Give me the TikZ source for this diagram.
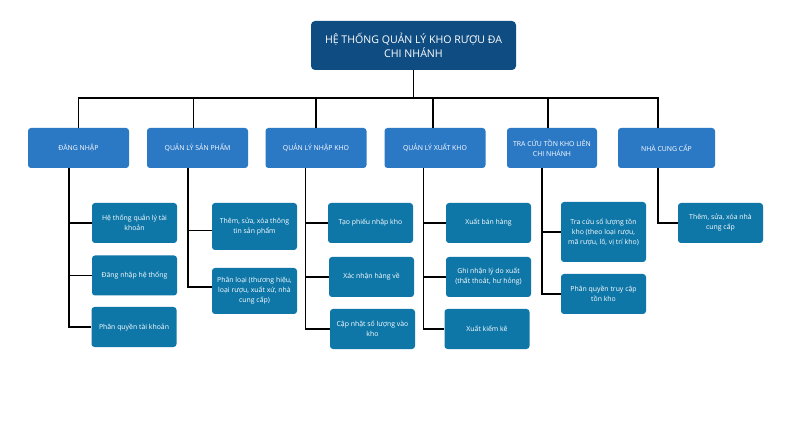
\documentclass[tikz,border=0pt]{standalone}
\usepackage{fontspec}
\setmainfont{Open Sans}
\definecolor{topblue}{HTML}{0F4C81}
\definecolor{headblue}{HTML}{2B78C5}
\definecolor{subblue}{HTML}{0E77A8}

\begin{document}
\begin{tikzpicture}[x=1pt, y=-1pt,
    topbox/.style={fill=topblue, rounded corners=4pt, text=white, align=center,
      minimum width=205pt, minimum height=49pt, font=\fontsize{10.6}{13.5}\selectfont},
    headbox/.style={fill=headblue, rounded corners=3pt, text=white, align=center,
      minimum width=101pt, minimum height=40pt, font=\fontsize{6.9}{10}\selectfont},
    subbox/.style={fill=subblue, rounded corners=3pt, text=white, align=center,
      minimum width=85pt, minimum height=40pt, font=\fontsize{6.9}{10}\selectfont},
    link/.style={black, line width=1.4pt}]
  \path[fill=white, use as bounding box] (0,0) rectangle (787,430);

  % top
  \node[topbox] (top) at (413.5,45.5) {HỆ THỐNG QUẢN LÝ KHO RƯỢU ĐA\\CHI NHÁNH};

  % main modules
  \node[headbox] (dn) at (78.5,148) {ĐĂNG NHẬP};
  \node[headbox] (sp) at (197.5,148) {QUẢN LÝ SẢN PHẨM};
  \node[headbox] (nk) at (316,148) {QUẢN LÝ NHẬP KHO};
  \node[headbox] (xk) at (435,148) {QUẢN LÝ XUẤT KHO};
  \node[headbox, minimum width=90pt] (tc) at (552,148) {TRA CỨU TỒN KHO LIÊN\\CHI NHÁNH};
  \node[headbox, minimum width=97pt] (ncc) at (666.5,148) {NHÀ CUNG CẤP};

  % sub functions
  \node[subbox] (dn1) at (134.5,223) {Hệ thống quản lý tài\\khoản};
  \node[subbox] (dn2) at (134.5,275.5) {Đăng nhập hệ thống};
  \node[subbox] (dn3) at (134,327) {Phân quyền tài khoản};

  \node[subbox, minimum height=47pt] (sp1) at (254.5,226.5) {Thêm, sửa, xóa thông\\tin sản phẩm};
  \node[subbox, minimum height=46pt] (sp2) at (254.5,291) {Phân loại (thương hiệu,\\loại rượu, xuất xứ, nhà\\cung cấp)};

  \node[subbox] (nk1) at (370.5,223) {Tạo phiếu nhập kho};
  \node[subbox] (nk2) at (371.5,277) {Xác nhận hàng về};
  \node[subbox] (nk3) at (372.5,329) {Cập nhật số lượng vào\\kho};

  \node[subbox] (xk1) at (488.5,223) {Xuất bán hàng};
  \node[subbox] (xk2) at (488.5,277) {Ghi nhận lý do xuất\\(thất thoát, hư hỏng)};
  \node[subbox] (xk3) at (487,329) {Xuất kiểm kê};

  \node[subbox, minimum height=60pt] (tc1) at (603.5,232) {Tra cứu số lượng tồn\\kho (theo loại rượu,\\mã rượu, lô, vị trí kho)};
  \node[subbox] (tc2) at (603.5,294) {Phân quyền truy cập\\tồn kho};

  \node[subbox] (ncc1) at (720.5,223) {Thêm, sửa, xóa nhà\\cung cấp};

  % top bus
  \coordinate (bus) at (413.5,98);
  \draw[link] (top.south) -- (bus);
  \draw[link] (dn.north) |- (bus);
  \draw[link] ([xshift=-4pt]sp.north) |- (bus);
  \draw[link] (nk.north) |- (bus);
  \draw[link] ([xshift=-2pt]xk.north) |- (bus);
  \draw[link] ([xshift=-4pt]tc.north) |- (bus);
  \draw[link] ([xshift=-8.5pt]ncc.north) |- (bus);

  % branches
  \draw[link] ([xshift=-9.5pt]dn.south) |- (dn1.west);
  \draw[link] ([xshift=-9.5pt]dn.south) |- (dn2.west);
  \draw[link] ([xshift=-9.5pt]dn.south) |- (dn3.west);
  \draw[link] ([xshift=-9.5pt]sp.south) |- ([yshift=-4pt]sp1.west);
  \draw[link] ([xshift=-9.5pt]sp.south) |- ([yshift=4pt]sp2.west);
  \draw[link] ([xshift=-10.5pt]nk.south) |- (nk1.west);
  \draw[link] ([xshift=-10.5pt]nk.south) |- (nk2.west);
  \draw[link] ([xshift=-10.5pt]nk.south) |- (nk3.west);
  \draw[link] ([xshift=-11.5pt]xk.south) |- (xk1.west);
  \draw[link] ([xshift=-11.5pt]xk.south) |- (xk2.west);
  \draw[link] ([xshift=-11.5pt]xk.south) |- (xk3.west);
  \draw[link] ([xshift=-10pt]tc.south) |- (tc1.west);
  \draw[link] ([xshift=-10pt]tc.south) |- (tc2.west);
  \draw[link] ([xshift=-8.5pt]ncc.south) |- (ncc1.west);
\end{tikzpicture}
\end{document}
